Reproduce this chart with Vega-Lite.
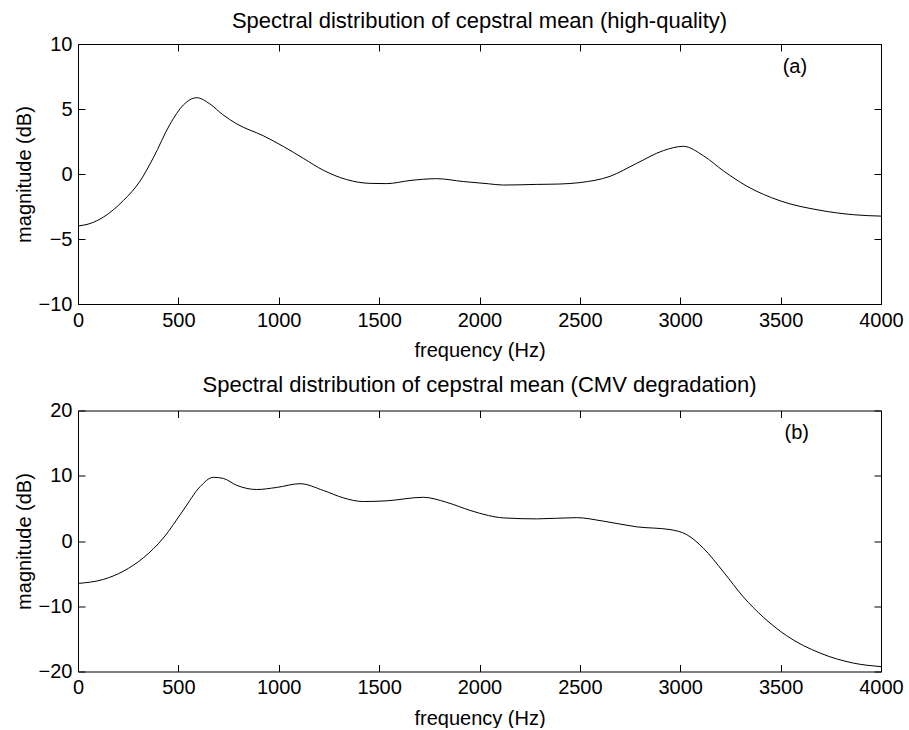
{
  "$schema": "https://vega.github.io/schema/vega-lite/v6.json",
  "background": "white",
  "padding": {"left": 14, "top": 9, "right": 0, "bottom": 0},
  "config": {
    "font": "Liberation Sans",
    "view": {"stroke": null},
    "axis": {
      "domainColor": "black", "tickColor": "black", "labelColor": "black", "titleColor": "black",
      "labelFont": "Liberation Sans", "titleFont": "Liberation Sans",
      "labelFontSize": 20, "titleFontSize": 20, "titleFontWeight": "normal",
      "grid": false, "tickSize": -7, "labelFlush": false, "labelOverlap": false, "labelPadding": 13, "format": "d"
    },
    "title": {"font": "Liberation Sans", "fontSize": 22, "fontWeight": "normal", "color": "black", "anchor": "middle", "baseline": "alphabetic"},
    "concat": {"spacing": 12.5}
  },
  "datasets": {
    "a": [
      {"f": 0, "db": -4.0}, {"f": 60, "db": -3.81}, {"f": 126, "db": -3.32}, {"f": 226, "db": -2.04},
      {"f": 309, "db": -0.55}, {"f": 375, "db": 1.24}, {"f": 458, "db": 3.82}, {"f": 525, "db": 5.31},
      {"f": 591, "db": 5.87}, {"f": 657, "db": 5.39}, {"f": 720, "db": 4.58}, {"f": 790, "db": 3.86},
      {"f": 923, "db": 2.94}, {"f": 1023, "db": 2.12}, {"f": 1122, "db": 1.21}, {"f": 1222, "db": 0.29},
      {"f": 1338, "db": -0.43}, {"f": 1454, "db": -0.72}, {"f": 1538, "db": -0.74}, {"f": 1654, "db": -0.5},
      {"f": 1787, "db": -0.36}, {"f": 1919, "db": -0.58}, {"f": 2044, "db": -0.75}, {"f": 2119, "db": -0.85},
      {"f": 2285, "db": -0.8}, {"f": 2400, "db": -0.77}, {"f": 2501, "db": -0.66}, {"f": 2650, "db": -0.18},
      {"f": 2783, "db": 0.82}, {"f": 2916, "db": 1.8}, {"f": 3015, "db": 2.13}, {"f": 3115, "db": 1.41},
      {"f": 3215, "db": 0.24}, {"f": 3331, "db": -0.93}, {"f": 3497, "db": -2.06}, {"f": 3696, "db": -2.79},
      {"f": 3862, "db": -3.13}, {"f": 4000, "db": -3.24}
    ],
    "b": [
      {"f": 0, "db": -6.5}, {"f": 126, "db": -5.89}, {"f": 226, "db": -4.63}, {"f": 325, "db": -2.59},
      {"f": 425, "db": 0.45}, {"f": 525, "db": 4.75}, {"f": 608, "db": 8.32}, {"f": 674, "db": 9.76},
      {"f": 724, "db": 9.59}, {"f": 790, "db": 8.54}, {"f": 890, "db": 7.89}, {"f": 990, "db": 8.21},
      {"f": 1106, "db": 8.78}, {"f": 1222, "db": 7.75}, {"f": 1321, "db": 6.62}, {"f": 1421, "db": 6.05},
      {"f": 1538, "db": 6.16}, {"f": 1720, "db": 6.7}, {"f": 1836, "db": 5.93}, {"f": 1953, "db": 4.69},
      {"f": 2044, "db": 3.91}, {"f": 2119, "db": 3.54}, {"f": 2285, "db": 3.39}, {"f": 2484, "db": 3.58},
      {"f": 2616, "db": 3.05}, {"f": 2783, "db": 2.17}, {"f": 2949, "db": 1.75}, {"f": 3032, "db": 0.98},
      {"f": 3115, "db": -1.1}, {"f": 3215, "db": -4.73}, {"f": 3314, "db": -8.56}, {"f": 3414, "db": -11.68},
      {"f": 3530, "db": -14.52}, {"f": 3696, "db": -17.17}, {"f": 3862, "db": -18.71}, {"f": 4000, "db": -19.25}
    ]
  },
  "vconcat": [
    {
      "width": 803, "height": 260,
      "title": {"text": "Spectral distribution of cepstral mean (high-quality)", "offset": 1.5},
      "layer": [
        {
          "data": {"name": "a"},
          "mark": {"type": "line", "color": "black", "strokeWidth": 1, "interpolate": "monotone"},
          "encoding": {
            "x": {"field": "f", "type": "quantitative", "scale": {"domain": [0, 4000], "nice": false, "zero": false},
                  "axis": {"orient": "bottom", "values": [0, 500, 1000, 1500, 2000, 2500, 3000, 3500, 4000], "title": "frequency (Hz)", "titlePadding": 10.5}},
            "y": {"field": "db", "type": "quantitative", "scale": {"domain": [-10, 10], "nice": false},
                  "axis": {"orient": "left", "values": [-10, -5, 0, 5, 10], "title": "magnitude (dB)", "titlePadding": 4}}
          }
        },
        {
          "data": {"name": "a"},
          "mark": {"type": "line", "strokeOpacity": 0},
          "encoding": {
            "x": {"field": "f", "type": "quantitative", "axis": {"orient": "top", "values": [0, 500, 1000, 1500, 2000, 2500, 3000, 3500, 4000], "labels": false, "title": null}},
            "y": {"field": "db", "type": "quantitative", "axis": {"orient": "right", "values": [-10, -5, 0, 5, 10], "labels": false, "title": null}}
          }
        },
        {
          "data": {"values": [{}]},
          "mark": {"type": "text", "fontSize": 20, "font": "Liberation Sans", "color": "black", "align": "center", "baseline": "middle"},
          "encoding": {
            "x": {"datum": 3571, "type": "quantitative", "axis": null},
            "y": {"datum": 8.2, "type": "quantitative", "axis": null},
            "text": {"value": "(a)"}
          }
        }
      ],
      "resolve": {"axis": {"x": "independent", "y": "independent"}}
    },
    {
      "width": 803, "height": 261,
      "title": {"text": "Spectral distribution of cepstral mean (CMV degradation)", "offset": 3.5},
      "layer": [
        {
          "data": {"name": "b"},
          "mark": {"type": "line", "color": "black", "strokeWidth": 1, "interpolate": "monotone"},
          "encoding": {
            "x": {"field": "f", "type": "quantitative", "scale": {"domain": [0, 4000], "nice": false, "zero": false},
                  "axis": {"orient": "bottom", "values": [0, 500, 1000, 1500, 2000, 2500, 3000, 3500, 4000], "title": "frequency (Hz)", "titlePadding": 10.5}},
            "y": {"field": "db", "type": "quantitative", "scale": {"domain": [-20, 20], "nice": false},
                  "axis": {"orient": "left", "values": [-20, -10, 0, 10, 20], "title": "magnitude (dB)", "titlePadding": 4}}
          }
        },
        {
          "data": {"name": "b"},
          "mark": {"type": "line", "strokeOpacity": 0},
          "encoding": {
            "x": {"field": "f", "type": "quantitative", "axis": {"orient": "top", "values": [0, 500, 1000, 1500, 2000, 2500, 3000, 3500, 4000], "labels": false, "title": null}},
            "y": {"field": "db", "type": "quantitative", "axis": {"orient": "right", "values": [-20, -10, 0, 10, 20], "labels": false, "title": null}}
          }
        },
        {
          "data": {"values": [{}]},
          "mark": {"type": "text", "fontSize": 20, "font": "Liberation Sans", "color": "black", "align": "center", "baseline": "middle"},
          "encoding": {
            "x": {"datum": 3580, "type": "quantitative", "axis": null},
            "y": {"datum": 16.5, "type": "quantitative", "axis": null},
            "text": {"value": "(b)"}
          }
        }
      ],
      "resolve": {"axis": {"x": "independent", "y": "independent"}}
    }
  ]
}
